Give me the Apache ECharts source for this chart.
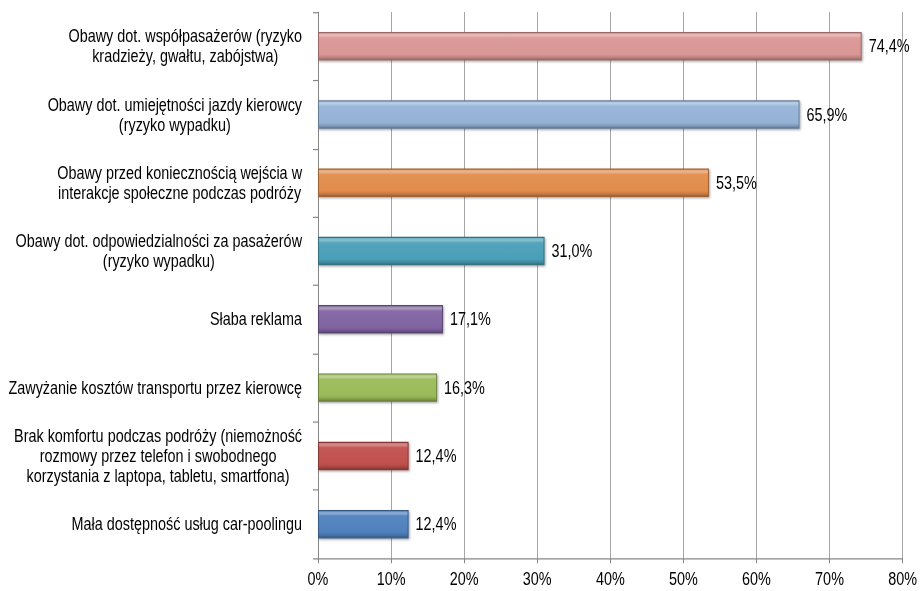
<!DOCTYPE html>
<html>
<head>
<meta charset="utf-8">
<script src="https://cdn.jsdelivr.net/npm/echarts@6/dist/echarts.min.js"></script>
<style>
  html, body { margin: 0; padding: 0; background: #fff; overflow: hidden; }
  #wrap { width: 920px; height: 591px; overflow: hidden; }
  #chart { width: 920px; height: 488px; transform-origin: 0 0; transform: scale(1, 1.2111); }
</style>
</head>
<body>
<div id="wrap"><div id="chart"></div></div>
<script>
const categories = [
  "Obawy dot. współpasażerów (ryzyko\nkradzieży, gwałtu, zabójstwa)",
  "Obawy dot. umiejętności jazdy kierowcy\n(ryzyko wypadku)",
  "Obawy przed koniecznością wejścia w\ninterakcje społeczne podczas podróży",
  "Obawy dot. odpowiedzialności za pasażerów\n(ryzyko wypadku)",
  "Słaba reklama",
  "Zawyżanie kosztów transportu przez kierowcę",
  "Brak komfortu podczas podróży (niemożność\nrozmowy przez telefon i swobodnego\nkorzystania z laptopa, tabletu, smartfona)",
  "Mała dostępność usług car-poolingu"
];
const values = [74.4, 65.9, 53.5, 31.0, 17.1, 16.3, 12.4, 12.4];
const barColors = ["#D99694", "#95B3D7", "#E28C4C", "#4A9FB8", "#8064A2", "#9BBB59", "#C0504D", "#4F81BD"];
const xTicks = [0, 10, 20, 30, 40, 50, 60, 70, 80];

function shade(hex, f) {
  const n = parseInt(hex.slice(1), 16);
  let r = (n >> 16) & 255, g = (n >> 8) & 255, b = n & 255;
  const adj = c => f >= 0 ? Math.round(c + (255 - c) * f) : Math.round(c * (1 + f));
  return `rgb(${adj(r)},${adj(g)},${adj(b)})`;
}

const FONT = '"Liberation Sans", Arial, sans-serif';
const FS = 14.4;

const chart = echarts.init(document.getElementById('chart'), null, { renderer: 'svg' });

chart.setOption({
  animation: false,
  backgroundColor: '#ffffff',
  grid: { left: 318, right: 15, top: 10, bottom: 27, containLabel: false },
  xAxis: {
    type: 'value',
    min: xTicks[0],
    max: xTicks[xTicks.length - 1],
    interval: 10,
    axisLine: { show: true, lineStyle: { color: '#868686', width: 1 } },
    axisTick: { show: true, length: 4, lineStyle: { color: '#868686' } },
    splitLine: { show: true, lineStyle: { color: '#A6A6A6', width: 1 } },
    axisLabel: {
      margin: 10,
      color: '#000',
      fontFamily: FONT,
      fontSize: FS,
      formatter: v => v + '%'
    }
  },
  yAxis: {
    type: 'category',
    inverse: true,
    data: categories,
    axisLine: { show: true, lineStyle: { color: '#868686', width: 1 } },
    axisTick: { show: true, length: 5, alignWithLabel: false, lineStyle: { color: '#868686' } },
    splitLine: { show: false },
    axisLabel: {
      margin: 16,
      color: '#000',
      fontFamily: FONT,
      fontSize: FS,
      lineHeight: 16.5,
      formatter: v => v.split('\n').map(l => '{c|' + l + '}').join('\n'),
      rich: {
        c: { align: 'center', fontFamily: FONT, fontSize: FS, lineHeight: 16.5, color: '#000' }
      }
    }
  },
  series: [{
    type: 'bar',
    barWidth: 23.5,
    data: values.map((v, i) => ({
      value: v,
      itemStyle: {
        color: {
          type: 'linear', x: 0, y: 0, x2: 0, y2: 1,
          colorStops: [
            { offset: 0, color: shade(barColors[i], 0.15) },
            { offset: 0.1, color: shade(barColors[i], 0.35) },
            { offset: 0.2, color: shade(barColors[i], 0.05) },
            { offset: 0.8, color: barColors[i] },
            { offset: 0.92, color: shade(barColors[i], -0.15) },
            { offset: 1, color: shade(barColors[i], -0.35) }
          ]
        },
        borderColor: shade(barColors[i], -0.3),
        borderWidth: 1,
        shadowColor: 'rgba(0,0,0,0.35)',
        shadowBlur: 2,
        shadowOffsetX: 1,
        shadowOffsetY: 1
      }
    })),
    label: {
      show: true,
      position: 'right',
      distance: 7,
      color: '#000',
      fontFamily: FONT,
      fontSize: FS,
      formatter: p => p.value.toFixed(1).replace('.', ',') + '%'
    }
  }]
});
</script>
</body>
</html>
